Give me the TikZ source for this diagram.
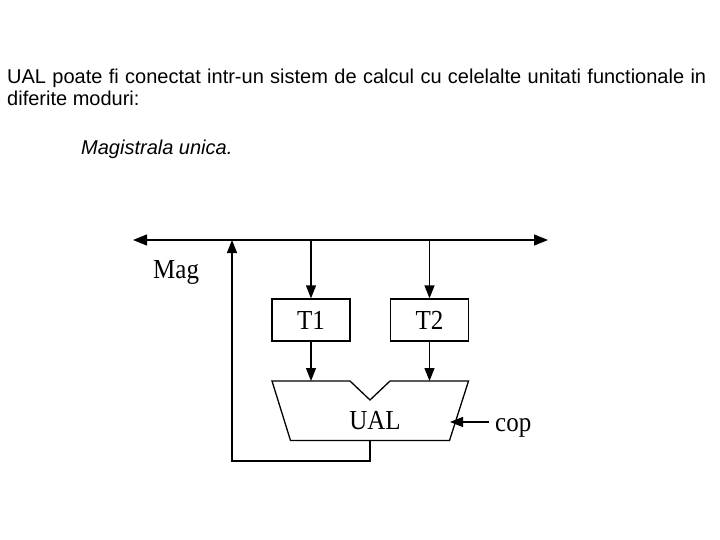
\documentclass[tikz,border=0pt]{standalone}
\usepackage{fontspec}
\setmainfont{Liberation Serif}
\newfontfamily\arialf{Liberation Sans}
\usetikzlibrary{arrows.meta}
\newcommand{\tallt}[1]{\scalebox{1}[1.1]{#1}}
\tikzset{
  wire/.style={line width=1.3pt, black},
  arr/.style={wire, -{Triangle[length=13pt,width=10pt]}},
  dblarr/.style={wire, {Triangle[length=14pt,width=11pt]}-{Triangle[length=14pt,width=11pt]}},
  regbox/.style={draw, line width=1.3pt, minimum width=78pt, minimum height=42pt, inner sep=0pt, font=\fontsize{25}{27}\selectfont},
  lbl/.style={inner sep=0pt, font=\fontsize{25}{27}\selectfont},
  body/.style={inner sep=0pt, font=\arialf\fontsize{20}{23}\selectfont}
}
\begin{document}
\begin{tikzpicture}[x=1pt,y=-1pt]
\useasboundingbox (0,0) rectangle (720,540);
% text
\node[body, anchor=base west] (l1) at (7,84) {\makebox[699pt][s]{UAL poate fi conectat intr-un sistem de calcul cu celelalte unitati functionale in}};
\node[body, anchor=base west] (l2) at (7,106) {diferite moduri:};
\node[body, anchor=base west] (l3) at (81,155) {\itshape Magistrala unica.};
% bus
\coordinate (busL) at (133,240);
\coordinate (busR) at (548,240);
\draw[dblarr] (busL) -- (busR);
\node[lbl, anchor=base west] (mag) at (153,278) {\tallt{Mag}};
% registers
\node[regbox] (T1) at (311,320) {\tallt{T1}};
\node[regbox] (T2) at (429.5,320) {\tallt{T2}};
\coordinate (b1) at (311,240);
\coordinate (b2) at (429.5,240);
\draw[arr] (b1) -- (T1.north);
\draw[arr] (b2) -- (T2.north);
% UAL shape
\coordinate (u1) at (311,381);
\coordinate (u2) at (429.5,381);
\draw[line width=1.3pt, line join=miter] (272,381) -- (350,381) -- (370,400) -- (390,381) -- (468.5,381) -- (449.5,440.5) -- (290.5,440.5) -- cycle;
\node[lbl] (ual) at (375,421) {\tallt{UAL}};
\draw[arr] (T1.south) -- (u1);
\draw[arr] (T2.south) -- (u2);
% cop
\node[lbl, anchor=base west] (cop) at (495,431) {\tallt{cop}};
\coordinate (copin) at (450,422);
\coordinate (copout) at (489,422);
\draw[arr] (copout) -- (copin);
% feedback
\coordinate (uout) at (370,440.5);
\coordinate (fb) at (232,240);
\draw[arr] (uout) -- (370,461) -- (232,461) -- (fb);
\end{tikzpicture}
\end{document}
